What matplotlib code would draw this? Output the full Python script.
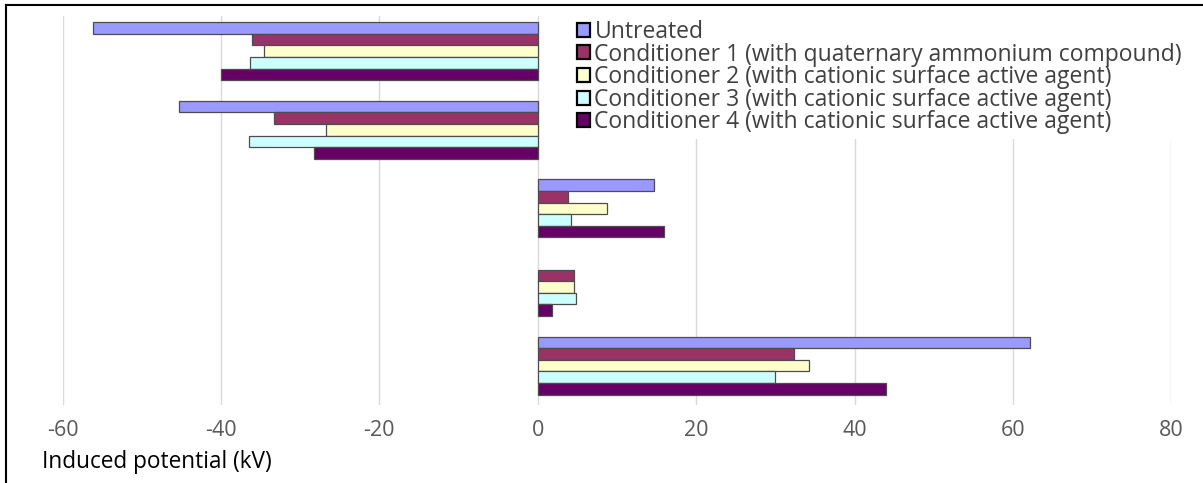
import matplotlib
matplotlib.use("Agg")
import matplotlib.pyplot as plt
import numpy as np
from matplotlib.lines import Line2D
from matplotlib.patches import Patch

plt.rcParams['font.family'] = ['Open Sans', 'DejaVu Sans']
plt.rcParams['axes.unicode_minus'] = False

# Induced potential (kV) per sample group, one list per treatment
groups = ["A", "B", "C", "D", "E"]
untreated = [-56.2, -45.3, 14.7, 0.0, 62.2]
cond1 = [-36.1, -33.3, 3.8, 4.6, 32.3]
cond2 = [-34.6, -26.8, 8.8, 4.6, 34.3]
cond3 = [-36.3, -36.5, 4.2, 4.8, 30.0]
cond4 = [-40.0, -28.3, 15.9, 1.8, 44.0]

series = [untreated, cond1, cond2, cond3, cond4]
labels = ["Untreated",
          "Conditioner 1 (with quaternary ammonium compound)",
          "Conditioner 2 (with cationic surface active agent)",
          "Conditioner 3 (with cationic surface active agent)",
          "Conditioner 4 (with cationic surface active agent)"]
colors = ["#9999FF", "#993366", "#FFFFCC", "#CCFFFF", "#660066"]

fig = plt.figure(figsize=(12.03, 4.83), dpi=100)
ax = fig.add_axes([0.052, 0.1615, 0.9217, 0.805])

y = np.arange(len(groups))
h = 0.1476
for k, (vals, c) in enumerate(zip(series, colors)):
    # no outline on empty bars
    edges = ["#4d4d4d" if v != 0 else "none" for v in vals]
    ax.barh(y + (k - 2) * h, vals, height=h, color=c,
            edgecolor=edges, linewidth=0.9, zorder=3)

ax.set_xlim(-60, 80)
ax.set_ylim(4.5, -0.445)
ax.set_xticks(range(-60, 81, 20))
ax.set_yticks([])
ax.grid(axis="x", color="#d9d9d9", linewidth=1, zorder=0)
for s in ax.spines.values():
    s.set_visible(False)
ax.tick_params(axis="x", length=0, pad=11, labelsize=15.5, labelcolor="#595959")

fig.text(0.035, 0.043, "Induced potential (kV)", fontsize=16.3, color="black",
         ha="left", va="center")

handles = [Patch(facecolor=c, edgecolor="black", linewidth=1.6) for c in colors]
leg = ax.legend(handles, labels, loc="upper left", bbox_to_anchor=(0.4555, 1.014),
                frameon=True, framealpha=1, edgecolor="none", fontsize=16.5,
                handlelength=0.57, handleheight=0.57, handletextpad=0.2,
                labelspacing=-0.06, borderpad=0.2, borderaxespad=0.2,
                labelcolor="#404040")

# outer frame lines at top and left
fig.add_artist(Line2D([6 / 1203, 1], [1 - 5 / 483, 1 - 5 / 483],
                      color="black", linewidth=1.5, transform=fig.transFigure))
fig.add_artist(Line2D([6 / 1203, 6 / 1203], [0, 1 - 5 / 483],
                      color="black", linewidth=1.5, transform=fig.transFigure))

fig.savefig("out.png", dpi=100)
